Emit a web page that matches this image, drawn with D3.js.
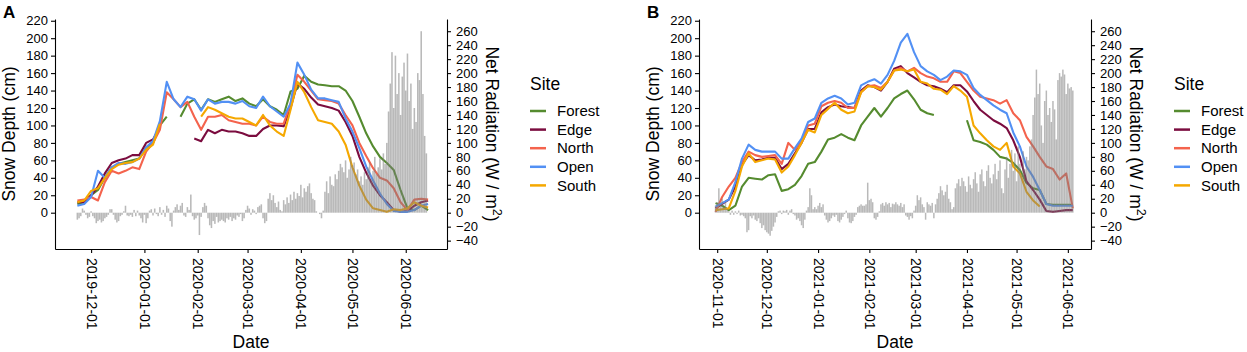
<!DOCTYPE html>
<html>
<head>
<meta charset="utf-8">
<script src="https://cdn.jsdelivr.net/npm/d3@7"></script>
<style>
  body { margin: 0; background: #fff; }
  svg { display: block; font-family: "Liberation Sans", Arial, sans-serif; }
  .axis path, .axis line { stroke: #000; stroke-width: 1.1; }
  .axis text { fill: #000; font-size: 13px; }
  .x-axis text { font-size: 14px; }
  .title { font-size: 17.5px; fill: #000; }
</style>
</head>
<body>
<svg id="chart" width="1247" height="352"></svg>
<script>
// ---- data ------------------------------------------------------------------
const SITES = ["Forest", "Edge", "North", "Open", "South"];
const SITE_COLORS = ["#558b2f", "#7b0c3f", "#f4634d", "#5290f4", "#f5a800"];

const SNOW_TICKS = [0, 20, 40, 60, 80, 100, 120, 140, 160, 180, 200, 220];
const RAD_TICKS = [-40, -20, 0, 20, 40, 60, 80, 100, 120, 140, 160, 180, 200, 220, 240, 260];

// Panel A: 2019-20 season, snow depth every 4 days from 2019-11-23
const A_SNOW_START = "2019-11-23";
const A_FOREST = [10, 12, 20, 26, 40, 52, 56, 58, 60, 62, 75, 80, 100, 110, null, 110, 125, 130, 118, 130,
  127, 130, 133, 128, 131, 125, 122, 130, 122, 118, 112, 139, 142, 157, 150, 147, 146, 145, 145, 140,
  128, 110, 91, 76, 64, 57, 49, 26, 5, 3, 8, 3];
const A_EDGE = [12, 12, 20, 30, 45, 57, 60, 62, 66, 66, 80, 84, 98, null, null, null, null, 85, 82, 95,
  91, 95, 93, 93, 91, 88, 88, 96, 100, 100, 99, 120, 148, 142, 132, 124, 122, 120, 117, 104,
  88, 64, 46, 31, 20, 12, 3, 1, 2, 8, 12, 14];
const A_NORTH = [14, 15, 18, 14, 35, 48, 45, 48, 52, 50, 70, 80, 95, 138, 130, 121, 127, 110, 95, 110,
  110, 112, 106, 104, 102, 102, 100, 110, 104, 102, 102, 125, 158, 150, 140, 130, 129, 128, 125, 112,
  100, 80, 65, 51, 40, 37, 28, 12, 3, 15, 16, 15];
const A_OPEN = [8, 10, 18, 48, 40, 52, 57, 56, 58, 62, 75, 82, 105, 150, 130, 121, 133, 130, 117, 130,
  125, 127, 127, 125, 128, 122, 120, 133, 122, 116, 110, 125, 172, 158, 141, 131, 131, 129, 127, 108,
  93, 74, 53, 37, 22, 10, 2, 1, 1, 3, 8, 10];
const A_SOUTH = [12, 14, 25, 28, 40, 50, 55, 57, 58, 62, 72, 78, 102, null, null, null, null, null, 110, 121,
  118, 114, 110, 108, 108, 104, 100, 112, 100, 93, 88, 118, 150, 138, 121, 106, 104, 102, 93, 78,
  52, 31, 15, 5, 3, 1, 4, 3, 5, 12, 8, 6];
// daily net radiation from 2019-11-23
const A_RAD_START = "2019-11-23";
const A_RAD = [
  -10, -8, -5, 6, 3, -3, -8, -6, 2, -5,
  -8, -15, -12, -10, -14, -12, -8, -6, -3, 5,
  5, -3, -10, -14, -12, -5, -3, 2, 10, -4,
  -5, -3, -6, 4, -5, 3, -4, -8, -14, -3,
  -15, -8, 3, 5, -4, 6, -2, -5, 8, -3,
  4, -6, 10, 6, -12, -20, 3, 8, 12, 4,
  10, 14, -4, -6, 8, 4, 26, -5, -10, -8,
  -4, -32, -6, 8, 14, 10, -8, -18, -22, -12,
  -16, -6, -14, -12, -10, -12, -14, -8, -10, -6,
  -12, -8, -10, -4, -6, -2, -12, -8, 4, 10,
  6, -3, 5, 3, -2, 8, 10, 12, -8, -15,
  -12, 20, 28, 18, 25, 14, 8, 16, 4, 2,
  18, 12, 22, 14, 26, 18, 30, 20, 28, 24,
  40, 22, 35, 30, 38, 42, 28, 20, 18, 2,
  0, -2, -8, 3, 30, 45, 28, 52, 40, 38,
  55, 48, 60, 70, 65, 58, 75, 50, 62, 80,
  68, 72, 55, 62, 45, 52, 40, 58, 48, 65,
  72, 48, 60, 80, 55, 65, 78, 62, 85, 70,
  100, 145, 185, 230, 150, 225, 170, 200, 140, 195,
  215, 175, 228, 160, 185, 120, 150, 130, 200, 190,
  260, 170, 110, 85];
const A_DATE_TICKS = ["2019-12-01", "2020-01-01", "2020-02-01", "2020-03-01", "2020-04-01", "2020-05-01", "2020-06-01"];

// Panel B: 2020-21 season, snow depth every 4 days from 2020-10-31
const B_SNOW_START = "2020-10-31";
const B_FOREST = [11, 8, 3, 8, 30, 40, 39, 38, 43, 44, 25, 27, 32, 42, 56, 58, 70, 84, 86, 90,
  86, 83, 100, 110, 120, 110, 120, 131, 136, 140, 130, 118, 114, 112, null, null, null, null, 106, 83,
  81, 78, 72, 64, 62, 57, 49, 34, 28, 26, 10, 9, 9, 9, 9];
const B_EDGE = [5, 10, 15, 30, 55, 66, 60, 61, 63, 63, 50, 56, 68, 80, 96, 96, 115, 121, 124, 122,
  121, 120, 140, 146, 144, 140, 150, 165, 168, 160, 155, 150, 146, 145, 142, 138, 146, 146, 139, 128,
  118, 112, 106, 102, 97, 83, 64, 36, 26, 15, 2, 1, 2, 3, 3];
const B_NORTH = [1, 18, 30, 40, 58, 70, 66, 64, 65, 66, 56, 80, 72, 82, 100, 102, 122, 126, 128, 126,
  120, 120, 138, 145, 146, 143, 150, 163, 166, 162, 166, 160, 156, 154, 150, 150, 162, 160, 150, 140,
  133, 131, 129, 125, 129, 114, 106, 87, 76, 64, 53, 50, 38, 45, 5];
const B_OPEN = [7, 11, 15, 35, 62, 78, 72, 70, 70, 70, 62, 62, 74, 85, 104, 108, 126, 131, 134, 131,
  124, 126, 146, 150, 153, 148, 158, 174, 195, 205, 184, 168, 162, 158, 152, 156, 163, 162, 158, 143,
  135, 129, 123, 118, 114, 92, 76, 53, 41, 26, 10, 8, 8, 8, 8];
const B_SOUTH = [3, 4, 5, 25, 53, 68, 58, 60, 62, 61, 46, 53, 66, 80, 95, 92, 112, 119, 126, 118,
  114, 116, 138, 145, 144, 141, 150, 163, 164, 162, 164, 150, 148, 142, 141, 136, 145, 140, 133, 100,
  91, 83, 76, 72, 80, 53, 45, 24, 14, 7, null, null, null, null, null];
const B_RAD_START = "2020-10-31";
const B_RAD = [
  10, 15, 35, 12, 20, 8, 15, 5, 2, -3,
  3, -3, 2, -2, 3, -4, -3, -5, -8, -28,
  -25, -5, -8, -4, -10, -12, -8, -15, -22, -18,
  -25, -28, -30, -33, -26, -20, -14, -6, 2, 3,
  -2, 3, 2, 4, -3, 3, 5, -2, -4, -10,
  -8, -12, -18, -22, -10, 3, 8, 35, 25, 5,
  8, 5, 10, 14, 8, 12, -4, -10, -14, -12,
  -8, -4, -6, -3, -12, -14, -10, -6, -2, 3,
  -8, -14, -15, -12, -6, -3, 8, 10, 12, 10,
  10, 12, 43, 18, 20, 15, -8, -10, -6, 2,
  12, 14, 10, 15, 12, 14, 8, 13, 12, 15,
  12, 10, 14, 8, 12, -4, -6, -10, -5, -8,
  3, 10, 25, 18, 22, 12, 8, -10, 15, 12,
  10, 14, -8, 12, 20, 28, 38, 32, 25, 30,
  40, 20, 15, 5, 8, 35, 42, 48, 38, 50,
  45, 38, 30, 52, 40, 35, 48, 58, 42, 30,
  55, 62, 45, 38, 60, 68, 50, 42, 55, 70,
  48, 60, 75, 35, 28, 62, 80, 50, 70, 90,
  60, 85, 45, 95, 70, 55, 88, 62, 80, 75,
  95, 105, 140, 165, 205, 170, 185, 125, 100, 160,
  175, 140, 150, 130, 160, 148, 105, 190, 200, 195,
  205, 198, 170, 185, 178, 180, 175];
const B_DATE_TICKS = ["2020-11-01", "2020-12-01", "2021-01-01", "2021-02-01", "2021-03-01", "2021-04-01", "2021-05-01", "2021-06-01"];

// ---- layout ----------------------------------------------------------------
const PLOT = { left: 55, right: 447, top: 19, bottom: 249 };
const SNOW_DOMAIN = [-41.6, 222];
const RAD_PER_CM = 1.25;   // secondary axis transform
const SNOW_STEP = 4;       // days between snow samples
const parse = d3.timeParse("%Y-%m-%d");
const svg = d3.select("#chart");

const PANELS = [
  { label: "A", dx: 0, xDomain: ["2019-11-10", "2020-06-25"], ticks: A_DATE_TICKS,
    snowStart: A_SNOW_START, snow: [A_FOREST, A_EDGE, A_NORTH, A_OPEN, A_SOUTH],
    radStart: A_RAD_START, rad: A_RAD },
  { label: "B", dx: 644, xDomain: ["2020-10-21", "2021-06-15"], ticks: B_DATE_TICKS,
    snowStart: B_SNOW_START, snow: [B_FOREST, B_EDGE, B_NORTH, B_OPEN, B_SOUTH],
    radStart: B_RAD_START, rad: B_RAD },
];

PANELS.forEach(drawPanel);

function drawPanel(p) {
  const g = svg.append("g").attr("transform", `translate(${p.dx},0)`);

  const x = d3.scaleTime().domain(p.xDomain.map(parse)).range([PLOT.left, PLOT.right]);
  const y = d3.scaleLinear().domain(SNOW_DOMAIN).range([PLOT.bottom, PLOT.top]);
  const yR = d3.scaleLinear().domain(SNOW_DOMAIN.map((v) => v * RAD_PER_CM)).range([PLOT.bottom, PLOT.top]);

  // snow depth lines (Forest first, South on top)
  const start = parse(p.snowStart);
  const line = d3.line()
    .defined((d) => d.v != null)
    .x((d) => x(d.date))
    .y((d) => y(d.v));

  p.snow.forEach((vals, k) => {
    const pts = vals.map((v, i) => ({ date: d3.timeDay.offset(start, i * SNOW_STEP), v }));
    g.append("path")
      .attr("d", line(pts))
      .attr("fill", "none")
      .attr("stroke", SITE_COLORS[k])
      .attr("stroke-width", 2.1)
      .attr("stroke-linejoin", "round");
  });

  // net radiation bars, semi-transparent over the lines
  const radStart = parse(p.radStart);
  const dayW = x(d3.timeDay.offset(radStart, 1)) - x(radStart);
  const bw = dayW * 0.9;
  g.append("g").selectAll("rect")
    .data(p.rad.map((v, i) => ({ date: d3.timeDay.offset(radStart, i), v })))
    .join("rect")
    .attr("x", (d) => x(d.date) - bw / 2)
    .attr("width", bw)
    .attr("y", (d) => Math.min(yR(d.v), yR(0)))
    .attr("height", (d) => Math.abs(yR(d.v) - yR(0)))
    .attr("fill", "#7f7f7f")
    .attr("fill-opacity", 0.55);

  // axes
  g.append("g").attr("class", "axis")
    .attr("transform", `translate(${PLOT.left},0)`)
    .call(d3.axisLeft(y).tickValues(SNOW_TICKS).tickSize(4).tickPadding(3).tickSizeOuter(0));

  g.append("g").attr("class", "axis")
    .attr("transform", `translate(${PLOT.right},0)`)
    .call(d3.axisRight(yR).tickValues(RAD_TICKS).tickSize(4).tickPadding(5).tickSizeOuter(0));

  const xa = g.append("g").attr("class", "axis x-axis")
    .attr("transform", `translate(0,${PLOT.bottom})`)
    .call(d3.axisBottom(x).tickValues(p.ticks.map(parse))
      .tickFormat(d3.timeFormat("%Y-%m-%d")).tickSize(4).tickSizeOuter(0));
  xa.selectAll("text")
    .attr("transform", "rotate(90)")
    .attr("x", 9).attr("y", 0).attr("dy", "0.35em")
    .style("text-anchor", "start");

  // titles
  g.append("text").attr("class", "title")
    .attr("transform", `translate(15,${(PLOT.top + PLOT.bottom) / 2}) rotate(-90)`)
    .attr("text-anchor", "middle")
    .text("Snow Depth (cm)");

  const rt = g.append("text").attr("class", "title")
    .attr("transform", `translate(486,${(PLOT.top + PLOT.bottom) / 2}) rotate(90)`)
    .attr("text-anchor", "middle");
  rt.append("tspan").text("Net Radiation (W / m");
  rt.append("tspan").attr("dy", -7).style("font-size", "12.5px").text("2");
  rt.append("tspan").attr("dy", 7).text(")");

  g.append("text").attr("class", "title")
    .attr("x", (PLOT.left + PLOT.right) / 2).attr("y", 348)
    .attr("text-anchor", "middle")
    .text("Date");

  g.append("text")
    .attr("x", 3).attr("y", 18)
    .style("font-size", "17px").style("font-weight", "bold")
    .text(p.label);

  // legend
  const lg = g.append("g").attr("transform", "translate(530,0)");
  lg.append("text").attr("class", "title").attr("x", 0).attr("y", 90).text("Site");
  SITES.forEach((s, k) => {
    const yy = 111 + k * 18.6;
    lg.append("line")
      .attr("x1", 0).attr("x2", 16).attr("y1", yy).attr("y2", yy)
      .attr("stroke", SITE_COLORS[k]).attr("stroke-width", 2.5);
    lg.append("text")
      .attr("x", 27).attr("y", yy).attr("dy", "0.35em")
      .style("font-size", "15px")
      .text(s);
  });
}
</script>
</body>
</html>
